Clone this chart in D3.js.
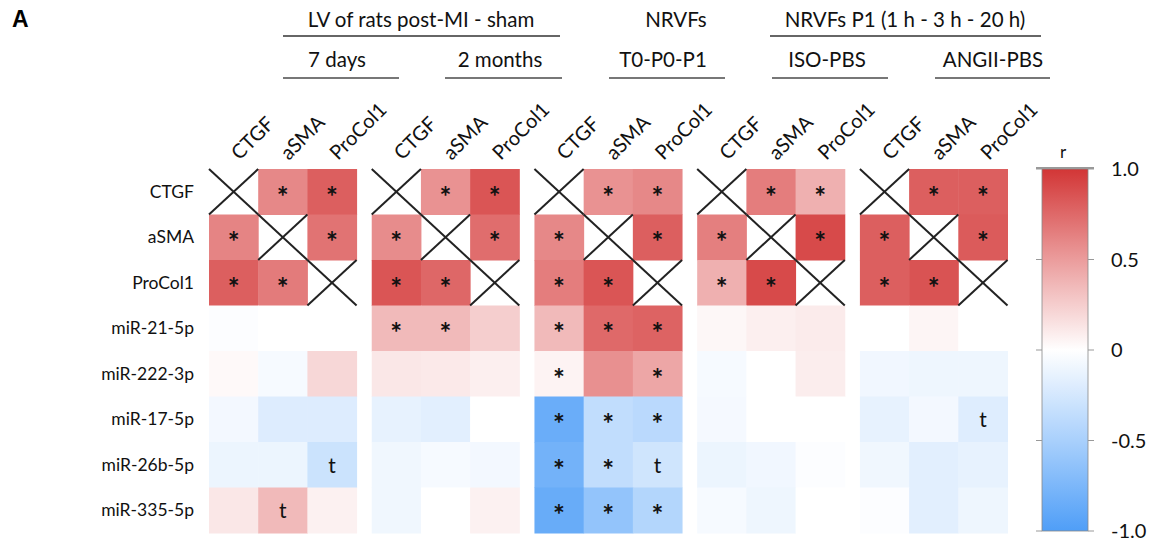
<!DOCTYPE html>
<html><head><meta charset="utf-8">
<script src="https://cdn.jsdelivr.net/npm/d3@7"></script>
<style>body{margin:0;background:#fff}svg{display:block;font-family:Lato,"Open Sans",sans-serif}</style>
</head><body><svg id="c" width="1160" height="544"></svg>
<script>
// ---------- data ----------
const rowLabels = ["CTGF","aSMA","ProCol1","miR-21-5p","miR-222-3p","miR-17-5p","miR-26b-5p","miR-335-5p"];
const colLabels = ["CTGF","aSMA","ProCol1"];
const panelNames = ["7 days","2 months","T0-P0-P1","ISO-PBS","ANGII-PBS"];
const groupNames = ["LV of rats post-MI - sham","NRVFs","NRVFs P1 (1 h - 3 h - 20 h)"];
const colorTicks = [1.0, 0.5, 0, -0.5, -1.0];
const colorTickLabels = ["1.0","0.5","0","-0.5","-1.0"];

// r values per panel (rows x [CTGF, aSMA, ProCol1]); null = diagonal
const r7days   = [[null,0.60,0.80],[0.62,null,0.70],[0.80,0.66,null],[-0.02,0,0],[0.03,-0.05,0.20],[-0.07,-0.20,-0.20],[-0.11,-0.11,-0.30],[0.12,0.35,0.07]];
const r2months = [[null,0.55,0.85],[0.58,null,0.73],[0.85,0.76,null],[0.35,0.35,0.25],[0.12,0.11,0.08],[-0.14,-0.17,0.0],[-0.09,-0.05,-0.07],[-0.09,0.0,0.07]];
const rT0P0P1  = [[null,0.55,0.60],[0.60,null,0.80],[0.65,0.85,null],[0.35,0.75,0.78],[0.06,0.56,0.45],[-0.85,-0.36,-0.40],[-0.80,-0.36,-0.28],[-0.86,-0.62,-0.44]];
const rISO     = [[null,0.65,0.40],[0.64,null,0.90],[0.40,0.90,null],[0.04,0.08,0.10],[-0.05,0.0,0.09],[-0.06,0.0,0.0],[-0.11,-0.08,-0.02],[-0.05,-0.10,0.0]];
const rANGII   = [[null,0.80,0.80],[0.80,null,0.82],[0.80,0.86,null],[0.0,0.05,0.0],[-0.08,-0.10,-0.10],[-0.14,-0.07,-0.19],[-0.09,-0.17,-0.14],[-0.02,-0.17,-0.10]];
const panelValues = [r7days, r2months, rT0P0P1, rISO, rANGII];

// significance marks per panel
const s7days   = [["","*","*"],["*","","*"],["*","*",""],["","",""],["","",""],["","",""],["","","t"],["","t",""]];
const s2months = [["","*","*"],["*","","*"],["*","*",""],["*","*",""],["","",""],["","",""],["","",""],["","",""]];
const sT0P0P1  = [["","*","*"],["*","","*"],["*","*",""],["*","*","*"],["*","","*"],["*","*","*"],["*","*","t"],["*","*","*"]];
const sISO     = [["","*","*"],["*","","*"],["*","*",""],["","",""],["","",""],["","",""],["","",""],["","",""]];
const sANGII   = [["","*","*"],["*","","*"],["*","*",""],["","",""],["","",""],["","","t"],["","",""],["","",""]];
const panelMarks = [s7days, s2months, sT0P0P1, sISO, sANGII];

// ---------- layout ----------
const svg = d3.select("#c");
const gridTop = 169, gridBottom = 533, gridLeft = 209, gridRight = 1007.5;
const color = d3.scaleLinear().domain([-1,-0.5,0,0.5,1])
  .range(["#4f9ef7","#a9d0fc","#ffffff","#eb9c9c","#d23636"]).clamp(true);

const xPanel = d3.scaleBand().domain(d3.range(panelNames.length)).range([gridLeft, gridRight]).paddingInner(0.093);
const xCol = d3.scaleBand().domain(colLabels).range([0, xPanel.bandwidth()]);
const y = d3.scaleBand().domain(rowLabels).range([gridTop, gridBottom]);

// panel label
svg.append("text").attr("x",12).attr("y",27).attr("font-size",23).attr("font-weight","bold")
  .attr("font-family","Liberation Sans, Arial, sans-serif").text("A");

// headers (hand placed as in the figure)
const groupLayout = [{cx:421,line:[283,560]},{cx:676,line:null},{cx:905,line:[770,1041]}];
const panelLayout = [{cx:337,line:[283,399]},{cx:500,line:[445,562]},{cx:663,line:[609,725]},{cx:827,line:[772,888]},{cx:993,line:[935,1050]}];
groupNames.forEach((g,i)=>{
  const L = groupLayout[i];
  svg.append("text").attr("x",L.cx).attr("y",27).attr("text-anchor","middle").attr("font-size",20.5).attr("fill","#111").text(g);
  if (L.line) svg.append("line").attr("x1",L.line[0]).attr("x2",L.line[1]).attr("y1",36).attr("y2",36).attr("stroke","#333").attr("stroke-width",1.5);
});
panelNames.forEach((p,i)=>{
  const L = panelLayout[i];
  svg.append("text").attr("x",L.cx).attr("y",67).attr("text-anchor","middle").attr("font-size",20.5).attr("fill","#111").text(p);
  svg.append("line").attr("x1",L.line[0]).attr("x2",L.line[1]).attr("y1",78).attr("y2",78).attr("stroke","#777").attr("stroke-width",2);
});

// row labels
svg.append("g").selectAll("text").data(rowLabels).join("text")
  .attr("x",194).attr("y",d=>y(d)+y.bandwidth()/2).attr("dy","0.35em")
  .attr("text-anchor","end").attr("font-size",17.5).attr("fill","#111").text(d=>d);

// panels
panelNames.forEach((p,pi)=>{
  const g = svg.append("g").attr("transform",`translate(${xPanel(pi)},0)`);
  const cells = [];
  rowLabels.forEach((r,ri)=>colLabels.forEach((c,ci)=>{
    cells.push({r,c,v:panelValues[pi][ri][ci],m:panelMarks[pi][ri][ci]});
  }));
  g.selectAll("rect").data(cells.filter(d=>d.v!==null)).join("rect")
    .attr("x",d=>xCol(d.c)).attr("y",d=>y(d.r))
    .attr("width",xCol.bandwidth()+0.5).attr("height",y.bandwidth()+0.5)
    .attr("fill",d=>color(d.v));
  // crosses on diagonal
  cells.filter(d=>d.v===null).forEach(d=>{
    const x0=xCol(d.c), x1=x0+xCol.bandwidth(), y0=y(d.r), y1=y0+y.bandwidth();
    g.append("line").attr("x1",x0).attr("y1",y0).attr("x2",x1).attr("y2",y1).attr("stroke","#222").attr("stroke-width",2);
    g.append("line").attr("x1",x0).attr("y1",y1).attr("x2",x1).attr("y2",y0).attr("stroke","#222").attr("stroke-width",2);
  });
  g.selectAll("text.mark").data(cells.filter(d=>d.m)).join("text").attr("class","mark")
    .attr("x",d=>xCol(d.c)+xCol.bandwidth()/2)
    .attr("y",d=>y(d.r)+y.bandwidth()/2 + (d.m==="*"?15:8))
    .attr("text-anchor","middle").attr("font-size",d=>d.m==="*"?28:21)
    .attr("font-weight",d=>d.m==="*"?"bold":"normal").attr("fill","#111").text(d=>d.m);
  // column labels
  g.selectAll("text.col").data(colLabels).join("text").attr("class","col")
    .attr("transform",d=>`translate(${xCol(d)+xCol.bandwidth()/2+6},161) rotate(-45)`)
    .attr("font-size",20).attr("fill","#111").text(d=>d);
});

// colour bar
const cbX = 1042, cbW = 46;
const cy = d3.scaleLinear().domain([1,-1]).range([169,531]);
const defs = svg.append("defs");
const grad = defs.append("linearGradient").attr("id","cb").attr("x1",0).attr("x2",0).attr("y1",0).attr("y2",1);
d3.range(0,1.0001,0.05).forEach(t=>grad.append("stop").attr("offset",t).attr("stop-color",color(1-2*t)));
svg.append("rect").attr("x",cbX).attr("y",cy(1)).attr("width",cbW).attr("height",cy(-1)-cy(1))
  .attr("fill","url(#cb)").attr("stroke","#888").attr("stroke-width",0.8);
svg.append("line").attr("x1",cbX-6).attr("x2",cbX+cbW+6).attr("y1",cy(1)-1).attr("y2",cy(1)-1).attr("stroke","#999").attr("stroke-width",2);
colorTicks.forEach((t,i)=>{
  svg.append("line").attr("x1",cbX-6).attr("x2",cbX).attr("y1",cy(t)).attr("y2",cy(t)).attr("stroke","#999").attr("stroke-width",1);
  svg.append("line").attr("x1",cbX+cbW).attr("x2",cbX+cbW+6).attr("y1",cy(t)).attr("y2",cy(t)).attr("stroke","#999").attr("stroke-width",1);
  svg.append("text").attr("x",1111).attr("y",cy(t)).attr("dy","0.35em").attr("font-size",20).attr("fill","#111").text(colorTickLabels[i]);
});
svg.append("text").attr("x",cbX+cbW/2-2).attr("y",158).attr("text-anchor","middle").attr("font-size",17).attr("fill","#111").text("r");
</script></body></html>
